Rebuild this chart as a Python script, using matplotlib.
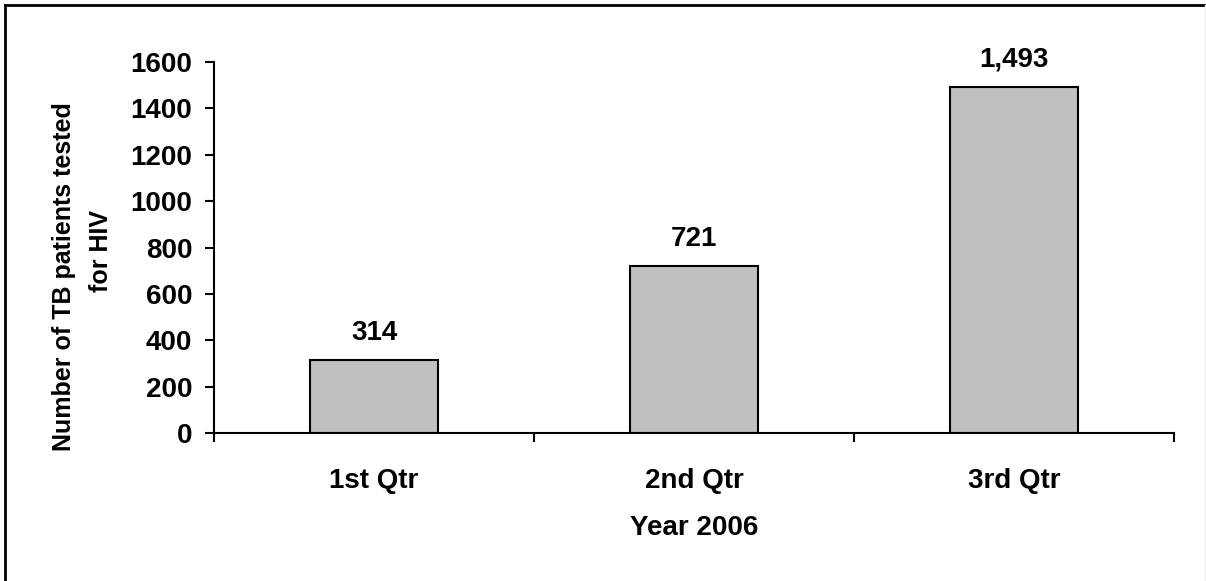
import matplotlib
matplotlib.use("Agg")
import matplotlib.pyplot as plt
from matplotlib.lines import Line2D

categories = ["1st Qtr", "2nd Qtr", "3rd Qtr"]
values = [314, 721, 1493]
value_labels = ["314", "721", "1,493"]
yticks = [0, 200, 400, 600, 800, 1000, 1200, 1400, 1600]
ylabel_lines = ["Number of TB patients tested", "for HIV"]

plt.rcParams['font.family'] = ['Liberation Sans', 'DejaVu Sans']
plt.rcParams['font.weight'] = 'bold'

FS = 20
W, H = 1206, 581
fig = plt.figure(figsize=(W / 100, H / 100), dpi=100)
ax = fig.add_axes([214 / W, 1 - 433 / H, (1174 - 214) / W, (433 - 62) / H])

x = list(range(len(categories)))
ax.bar(x, values, width=0.4, color="#c0c0c0", edgecolor="black", linewidth=1.5, zorder=2)
for xi, v, lab in zip(x, values, value_labels):
    ax.annotate(lab, (xi, v), xytext=(0, 14.5), textcoords="offset points",
                ha="center", va="baseline", fontsize=FS, fontweight="bold")

ax.set_xlim(-0.5, len(categories) - 0.5)
ax.set_ylim(0, 1600)
ax.set_yticks(yticks)
ax.set_yticklabels([str(t) for t in yticks], fontsize=FS, fontweight="bold")
ax.set_xticks([i - 0.5 for i in range(len(categories) + 1)])
ax.set_xticklabels([])
ax.set_xticks(x, minor=True)
ax.set_xticklabels(categories, minor=True, fontsize=FS, fontweight="bold")
ax.tick_params(axis="x", which="minor", length=0, pad=25)
ax.tick_params(axis="x", which="major", length=6.5, width=1.5, direction="out")
ax.tick_params(axis="y", length=6.5, width=1.5, direction="out", pad=9)

for s in ["top", "right"]:
    ax.spines[s].set_visible(False)
for s in ["left", "bottom"]:
    ax.spines[s].set_linewidth(1.5)

ax.set_xlabel("Year 2006", fontsize=FS, fontweight="bold", labelpad=15)

# y-axis title in two lines (as in the reference, second line sits a bit higher)
fig.text(71 / W, 1 - 277 / H, ylabel_lines[0], rotation=90, rotation_mode="anchor",
         ha="center", va="baseline", fontsize=18, fontweight="bold")
fig.text(108 / W, 1 - 251 / H, ylabel_lines[1], rotation=90, rotation_mode="anchor",
         ha="center", va="baseline", fontsize=18, fontweight="bold")

# outer border (left and top visible, right faint)
fig.add_artist(Line2D([5 / W, 5 / W], [0, 1 - 5 / H], transform=fig.transFigure, color="black", linewidth=2))
fig.add_artist(Line2D([5 / W, 1], [1 - 5 / H, 1 - 5 / H], transform=fig.transFigure, color="black", linewidth=2))
fig.add_artist(Line2D([1 - 1.5 / W, 1 - 1.5 / W], [0, 1 - 5 / H], transform=fig.transFigure, color="#eeeeee", linewidth=1))

fig.savefig("out.png", dpi=100)
